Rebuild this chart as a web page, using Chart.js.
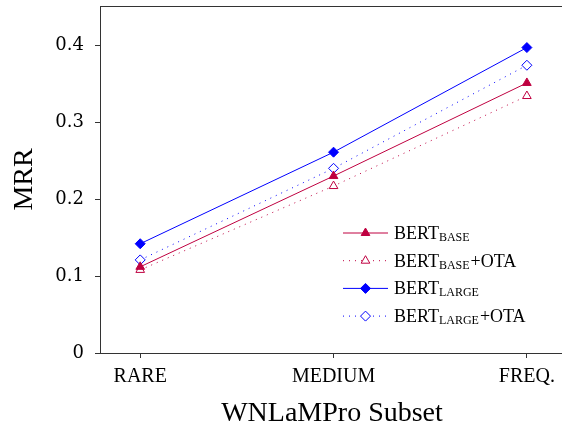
<!DOCTYPE html>
<html>
<head>
<meta charset="utf-8">
<script src="https://cdn.jsdelivr.net/npm/chart.js@4.4.0/dist/chart.umd.min.js"></script>
<style>
  html, body { margin: 0; padding: 0; background: #fff; overflow: hidden; }
  #wrap { width: 562px; height: 428px; overflow: hidden; }
</style>
</head>
<body>
<div id="wrap"><canvas id="myChart" width="570" height="428"></canvas></div>
<script>
const categories = ['RARE', 'MEDIUM', 'FREQ.'];
const bertBase = [0.112, 0.230, 0.351];
const bertBaseOta = [0.108, 0.217, 0.334];
const bertLarge = [0.142, 0.261, 0.397];
const bertLargeOta = [0.121, 0.240, 0.374];
const yTicks = [0, 0.1, 0.2, 0.3, 0.4];
const legendMain = ['BERT', 'BERT', 'BERT', 'BERT'];
const legendSub = ['BASE', 'BASE', 'LARGE', 'LARGE'];
const legendSuffix = ['', '+OTA', '', '+OTA'];

const purple = 'rgb(191, 0, 64)';
const blue = 'rgb(0, 0, 255)';
const axisColor = '#333';
const serif = '"Liberation Serif", "Times New Roman", serif';

function points(values) {
    return values.map((v, i) => ({ x: i, y: v }));
}

// legend drawn by hand so the subscripts look like the LaTeX one
const texLegend = {
    id: 'texLegend',
    afterDatasetsDraw(chart) {
        const ctx = chart.ctx;
        const x0 = 343, y0 = 233, rowH = 27.7, lineW = 45;
        chart.data.datasets.forEach((ds, i) => {
            const y = y0 + i * rowH;
            ctx.save();
            ctx.strokeStyle = ds.borderColor;
            ctx.lineWidth = 1;
            ctx.setLineDash(ds.borderDash || []);
            ctx.beginPath();
            ctx.moveTo(x0, y);
            ctx.lineTo(x0 + lineW, y);
            ctx.stroke();
            ctx.setLineDash([]);
            ctx.fillStyle = ds.pointBackgroundColor;
            ctx.strokeStyle = ds.borderColor;
            Chart.helpers.drawPoint(ctx, {
                pointStyle: ds.pointStyle, radius: ds.pointRadius, borderWidth: 1, rotation: 0
            }, x0 + lineW / 2, y);

            ctx.fillStyle = '#000';
            ctx.textAlign = 'left';
            ctx.textBaseline = 'alphabetic';
            let tx = x0 + 51;
            const base = y + 6;
            ctx.font = '18px ' + serif;
            ctx.fillText(legendMain[i], tx, base);
            tx += ctx.measureText(legendMain[i]).width;
            ctx.font = '12px ' + serif;
            ctx.fillText(legendSub[i], tx, base + 2);
            tx += ctx.measureText(legendSub[i]).width + 1;
            ctx.font = '18px ' + serif;
            ctx.fillText(legendSuffix[i], tx, base);
            ctx.restore();
        });
    }
};

const topFrame = {
    id: 'topFrame',
    afterDraw(chart) {
        const { ctx, chartArea: a } = chart;
        ctx.save();
        ctx.strokeStyle = axisColor;
        ctx.lineWidth = 1;
        ctx.beginPath();
        ctx.moveTo(a.left, a.top + 0.5);
        ctx.lineTo(a.right, a.top + 0.5);
        ctx.stroke();
        ctx.restore();
    }
};

const data = {
    datasets: [{
        label: 'BERT base',
        data: points(bertBase),
        borderColor: purple,
        backgroundColor: purple,
        pointBackgroundColor: purple,
        borderWidth: 1,
        pointStyle: 'triangle',
        pointRadius: 5,
        pointBorderWidth: 1
    }, {
        label: 'BERT base +OTA',
        data: points(bertBaseOta),
        borderColor: purple,
        backgroundColor: '#fff',
        pointBackgroundColor: '#fff',
        borderWidth: 1,
        borderDash: [1, 5],
        pointStyle: 'triangle',
        pointRadius: 5,
        pointBorderWidth: 1
    }, {
        label: 'BERT large',
        data: points(bertLarge),
        borderColor: blue,
        backgroundColor: blue,
        pointBackgroundColor: blue,
        borderWidth: 1,
        pointStyle: 'rectRot',
        pointRadius: 5,
        pointBorderWidth: 1
    }, {
        label: 'BERT large +OTA',
        data: points(bertLargeOta),
        borderColor: blue,
        backgroundColor: '#fff',
        pointBackgroundColor: '#fff',
        borderWidth: 1,
        borderDash: [1, 5],
        pointStyle: 'rectRot',
        pointRadius: 5,
        pointBorderWidth: 1
    }]
};

const config = {
    type: 'line',
    data: data,
    options: {
        responsive: false,
        animation: false,
        layout: { padding: { top: 5, right: 0, left: 0, bottom: 0 } },
        plugins: {
            legend: { display: false },
            tooltip: { enabled: false }
        },
        scales: {
            x: {
                type: 'linear',
                min: -0.208,
                max: 2.192,
                afterBuildTicks: (s) => { s.ticks = categories.map((c, i) => ({ value: i })); },
                afterFit: (s) => { s.height = 75; s.paddingLeft = 0; s.paddingRight = 0; },
                ticks: {
                    callback: (v) => categories[v],
                    font: { family: serif, size: 20 },
                    color: '#000',
                    padding: 7,
                    maxRotation: 0,
                    autoSkip: false
                },
                grid: { drawOnChartArea: false, drawTicks: true, tickLength: 5, color: axisColor },
                border: { color: axisColor, width: 1 },
                title: {
                    display: true,
                    text: 'WNLaMPro Subset',
                    font: { family: serif, size: 28 },
                    color: '#000',
                    padding: { top: 0, bottom: -2 }
                }
            },
            y: {
                min: 0,
                max: 0.451,
                afterBuildTicks: (s) => { s.ticks = yTicks.map((v) => ({ value: v })); },
                afterFit: (s) => { s.width = 100; s.paddingTop = 0; s.paddingBottom = 0; },
                ticks: {
                    callback: (v) => v === 0 ? '0' : v.toFixed(1),
                    font: { family: '"DejaVu Serif", serif', size: 18 },
                    color: '#000',
                    padding: 11
                },
                grid: { drawOnChartArea: false, drawTicks: true, tickLength: 5, color: axisColor },
                border: { color: axisColor, width: 1 },
                title: {
                    display: true,
                    text: 'MRR',
                    font: { family: serif, size: 28 },
                    color: '#000',
                    padding: { top: 8, bottom: 0 }
                }
            }
        }
    },
    plugins: [texLegend, topFrame]
};

const myChart = new Chart(document.getElementById('myChart'), config);
</script>
</body>
</html>
